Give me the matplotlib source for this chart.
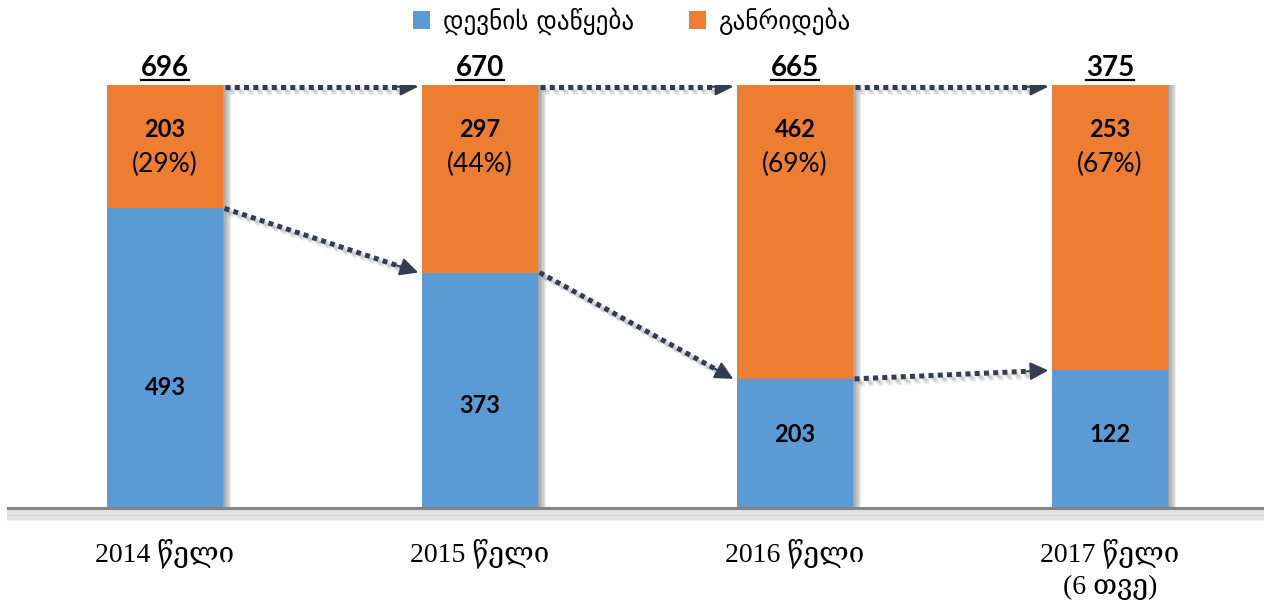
import matplotlib
matplotlib.use("Agg")
import matplotlib.pyplot as plt
import matplotlib.patheffects as pe
from matplotlib.patches import Patch
from matplotlib.lines import Line2D

# ---- data ----
categories = ["2014 წელი", "2015 წელი", "2016 წელი", "2017 წელი\n(6 თვე)"]
debt_start = [493, 373, 203, 122]      # დევნის დაწყება
diversion = [203, 297, 462, 253]       # განრიდება
diversion_pct = [29, 44, 69, 67]
series_names = ["დევნის დაწყება", "განრიდება"]

BLUE = "#5B9BD5"
ORANGE = "#ED7D31"
ARROW = "#323E50"

totals = [a + b for a, b in zip(debt_start, diversion)]
blue_share = [a / t for a, t in zip(debt_start, totals)]
orange_share = [b / t for b, t in zip(diversion, totals)]

fig = plt.figure(figsize=(12.64, 6.10), dpi=100)
ax = fig.add_axes([7.5 / 1264, (610 - 508) / 610, 1260 / 1264, (508 - 85) / 610])
x = list(range(len(categories)))
w = 0.368

bar_fx = [pe.SimplePatchShadow(offset=(k, 0), alpha=0.07, shadow_rgbFace="black") for k in range(1, 7)] + [pe.Normal()]
b1 = ax.bar(x, blue_share, width=w, color=BLUE, zorder=2)
b2 = ax.bar(x, orange_share, width=w, bottom=blue_share, color=ORANGE, zorder=2)
for bar in list(b1) + list(b2):
    bar.set_path_effects(bar_fx)

ax.set_xlim(-0.5, 3.5)
ax.set_ylim(0, 1)

num_font = "Lato"
blue_label_y = [0.284, 0.243, 0.173, 0.173]
for i in x:
    ax.text(i, blue_label_y[i], f"{debt_start[i]}", ha="center", va="center",
            fontsize=17, fontweight="bold", family=num_font, color="black", zorder=5)
    ax.text(i, 0.895, f"{diversion[i]}", ha="center", va="center",
            fontsize=17, fontweight="bold", family=num_font, color="black", zorder=5)
    ax.text(i, 0.812, f"({diversion_pct[i]}%)", ha="center", va="center",
            fontsize=19, family=num_font, color="black", zorder=5)

total_texts = []
for i in x:
    t = ax.text(i, 1.04, f"{totals[i]}", ha="center", va="center", fontsize=20,
                fontweight="bold", family=num_font, color="black", clip_on=False, zorder=5)
    total_texts.append(t)

# arrows
LW = 3.6
DASH = (0, (1.0, 0.85))
HEAD = "-|>,head_length=1.1,head_width=0.55"
line_fx = [pe.SimpleLineShadow(offset=(k, -k), alpha=0.07, shadow_color="black") for k in (1, 2, 3, 4)] + [pe.Normal()]

def draw_arrow(x0, y0, x1, y1, clip):
    frac = 0.91
    xm = x0 + (x1 - x0) * frac
    ym = y0 + (y1 - y0) * frac
    ax.plot([x0, xm], [y0, ym], color=ARROW, lw=LW, linestyle=DASH,
            dash_capstyle="butt", zorder=4, clip_on=clip, path_effects=line_fx)
    ann = ax.annotate("", xy=(x1, y1), xytext=(xm - (x1 - x0) * 0.02, ym - (y1 - y0) * 0.02),
                      arrowprops=dict(arrowstyle=HEAD, color=ARROW, lw=1.5, shrinkA=0, shrinkB=0),
                      zorder=4, annotation_clip=False)
    if clip:
        ann.arrow_patch.set_clip_on(True)
        ann.arrow_patch.set_clip_box(ax.bbox)

top_y = 0.996
for i in range(len(x) - 1):
    xs = i + w / 2 + 0.005
    xe = i + 1 - w / 2 - 0.012
    draw_arrow(xs, blue_share[i], xe, blue_share[i + 1], False)
    draw_arrow(xs, top_y, xe, top_y, True)

# axes styling
for s in ["top", "right", "left"]:
    ax.spines[s].set_visible(False)
ax.spines["bottom"].set_color("#858585")
ax.spines["bottom"].set_linewidth(2.2)
ax.spines["bottom"].set_path_effects(
    [pe.SimpleLineShadow(offset=(0, -k), alpha=0.06, shadow_color="black") for k in range(1, 9)] + [pe.Normal()])
ax.set_yticks([])
ax.set_xticks(x)
ax.set_xticklabels(categories, family=["Liberation Serif", "DejaVu Serif"], fontsize=20,
                   linespacing=1.35)
ax.tick_params(axis="x", length=0, pad=22)

handles = [Patch(facecolor=BLUE), Patch(facecolor=ORANGE)]
fig.legend(handles, series_names, loc="upper center", bbox_to_anchor=(0.5, 1.025), ncol=2,
           frameon=False, prop={"family": "DejaVu Sans", "size": 18},
           handlelength=0.7, handleheight=0.7, columnspacing=2.2, handletextpad=0.5)

# underline totals
fig.canvas.draw()
r = fig.canvas.get_renderer()
for t in total_texts:
    bb = t.get_window_extent(r)
    y = bb.y0 + 1.5
    fig.add_artist(Line2D([bb.x0 / fig.bbox.width, bb.x1 / fig.bbox.width],
                          [y / fig.bbox.height, y / fig.bbox.height],
                          color="black", lw=1.6, transform=fig.transFigure))

fig.savefig("out.png", dpi=100)
